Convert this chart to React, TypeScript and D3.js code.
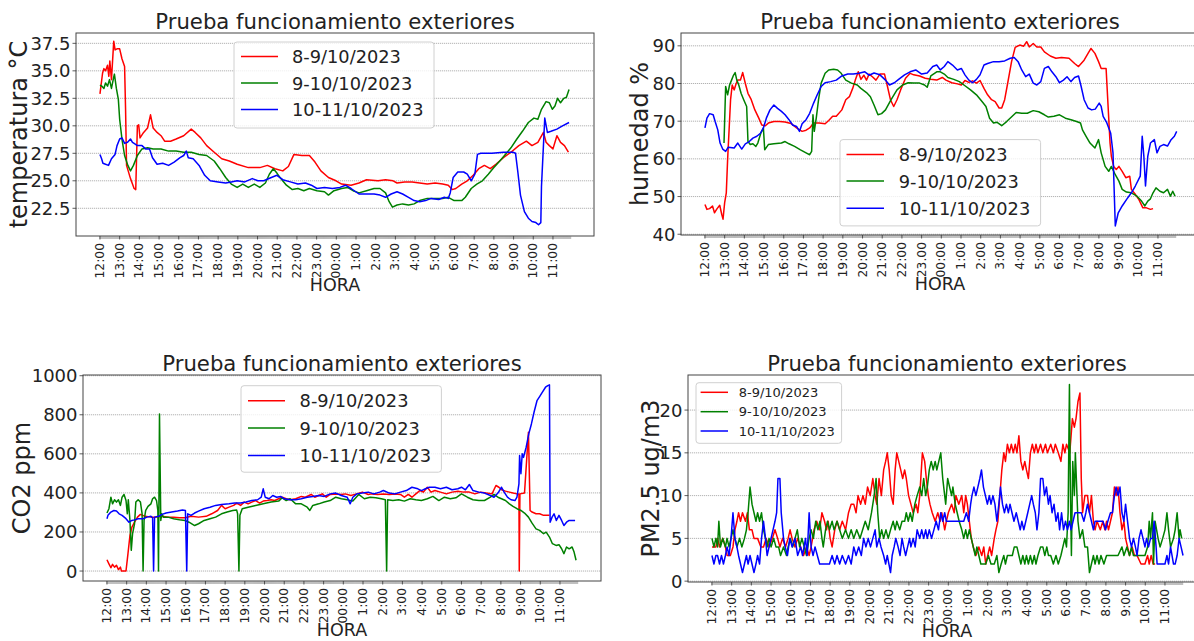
import React from "react";
import * as d3 from "d3";

type Pt = [number, number];

// x values are minutes after 12:00
const hourLabels = ["12:00","13:00","14:00","15:00","16:00","17:00","18:00","19:00","20:00","21:00","22:00","23.00","00:00","1:00","2:00","3:00","4:00","5:00","6:00","7:00","8:00","9:00","10:00","11:00"];
const seriesNames = ["8-9/10/2023", "9-10/10/2023", "10-11/10/2023"];
const seriesColors = ["#ff0000", "#008000", "#0000ff"];
const chartTitle = "Prueba funcionamiento exteriores";
const xAxisTitle = "HORA";

const tempRed: Pt[] = [[0,32.9],[8,34.8],[12,35.2],[17,35.0],[23,35.5],[27,34.5],[30,35.9],[35,34.2],[42,37.7],[46,36.9],[52,37.0],[60,37.0],[67,36.1],[75,35.4],[78,31.5],[81,26.4],[93,25.2],[104,24.3],[109,24.2],[114,30.0],[118,30.1],[122,28.9],[133,29.4],[145,29.8],[154,31.0],[162,29.8],[174,29.4],[186,29.1],[197,28.6],[215,28.6],[232,28.8],[255,29.1],[278,29.7],[290,29.4],[307,28.9],[325,28.2],[348,27.6],[371,27.0],[394,26.8],[418,26.5],[452,26.2],[487,26.2],[510,26.4],[533,26.1],[557,25.9],[574,26.3],[591,27.4],[615,27.3],[638,27.3],[655,26.7],[673,25.9],[696,25.3],[719,25.0],[736,24.7],[765,24.6],[789,24.8],[812,25.1],[847,25.0],[870,25.1],[893,25.0],[905,24.8],[928,24.9],[951,24.9],[974,24.8],[997,24.7],[1021,24.8],[1044,24.7],[1061,24.6],[1073,24.2],[1084,24.3],[1102,24.7],[1119,25.0],[1137,25.5],[1154,26.1],[1171,26.4],[1189,26.1],[1206,26.5],[1229,27.1],[1252,27.6],[1276,28.2],[1299,28.6],[1316,28.2],[1334,28.5],[1351,29.4],[1359,28.5],[1369,28.2],[1380,27.9],[1392,29.1],[1403,28.5],[1415,28.2],[1427,27.6]];
const tempGreen: Pt[] = [[0,33.7],[6,33.6],[12,33.4],[17,33.9],[23,33.6],[29,34.2],[35,33.4],[41,34.3],[44,34.7],[50,33.4],[56,32.4],[60,30.6],[67,28.8],[75,27.3],[85,26.4],[93,25.9],[102,26.4],[114,27.3],[128,27.9],[145,28.0],[162,27.9],[186,27.9],[209,27.7],[232,27.7],[255,27.6],[278,27.6],[302,27.4],[325,27.3],[348,26.8],[365,26.1],[383,25.3],[400,24.7],[418,24.4],[435,24.7],[452,24.4],[470,24.7],[487,24.4],[504,24.8],[516,25.6],[528,26.1],[539,25.7],[551,25.2],[568,24.6],[586,24.2],[603,24.3],[621,24.1],[638,24.3],[661,24.1],[684,24.0],[696,23.7],[713,24.1],[736,24.3],[754,24.4],[771,24.1],[789,23.9],[812,24.1],[835,24.3],[853,24.3],[870,23.9],[881,23.1],[891,22.6],[905,22.8],[922,22.9],[940,22.8],[957,22.9],[974,23.2],[997,23.4],[1021,23.4],[1044,23.4],[1061,23.5],[1079,23.2],[1102,23.2],[1113,23.5],[1131,24.3],[1148,24.7],[1165,25.0],[1183,25.6],[1200,26.2],[1218,26.8],[1235,27.4],[1252,28.0],[1270,28.8],[1287,29.5],[1305,30.3],[1322,30.7],[1334,30.6],[1345,31.5],[1359,32.2],[1369,32.1],[1378,31.5],[1386,31.8],[1394,32.5],[1403,32.1],[1413,32.5],[1421,32.6],[1429,33.3]];
const tempBlue: Pt[] = [[0,27.4],[5,27.0],[9,26.6],[17,26.5],[26,26.4],[35,27.0],[46,27.4],[52,28.2],[60,28.8],[67,28.9],[75,28.4],[84,28.5],[93,28.8],[99,28.5],[104,28.4],[114,28.2],[128,28.2],[139,27.9],[151,27.9],[160,27.1],[174,26.5],[191,26.6],[209,26.4],[226,26.7],[244,27.1],[255,27.3],[263,27.7],[269,27.1],[284,27.0],[302,26.4],[319,25.5],[336,25.0],[360,24.9],[383,24.8],[400,24.9],[418,25.0],[441,24.9],[464,25.2],[481,25.0],[499,25.0],[522,25.3],[539,25.5],[557,25.1],[580,24.9],[603,24.7],[626,24.8],[644,24.6],[661,24.3],[684,24.4],[708,24.3],[731,24.4],[748,24.6],[765,24.3],[789,23.8],[812,23.8],[835,23.8],[853,23.7],[870,23.5],[887,23.8],[905,24.0],[922,23.8],[940,23.5],[957,23.2],[974,23.1],[992,23.2],[1009,23.4],[1032,23.3],[1049,23.5],[1061,23.4],[1067,23.9],[1076,25.3],[1090,25.8],[1108,25.8],[1119,25.6],[1131,25.0],[1142,25.6],[1150,27.4],[1160,27.5],[1194,27.5],[1229,27.6],[1258,27.6],[1266,27.5],[1273,25.8],[1281,23.7],[1293,22.2],[1305,21.6],[1316,21.3],[1328,21.2],[1336,21.0],[1343,21.2],[1345,24.5],[1355,30.7],[1363,29.4],[1374,29.5],[1392,29.7],[1409,30.0],[1429,30.3]];

const humRed: Pt[] = [[0,47.9],[6,46.6],[14,46.8],[23,47.5],[29,45.7],[37,46.8],[45,47.7],[51,45.3],[55,44.0],[60,48.4],[65,51.0],[69,59.8],[74,68.6],[78,75.7],[83,79.6],[89,78.3],[95,80.0],[100,80.9],[108,80.9],[115,82.9],[123,80.0],[131,77.4],[141,75.7],[152,73.0],[164,70.8],[173,69.0],[184,68.8],[193,69.5],[210,69.9],[227,69.9],[244,69.8],[262,69.4],[279,68.2],[296,67.3],[308,67.6],[319,68.2],[331,69.5],[348,69.5],[366,69.3],[377,70.2],[389,71.3],[400,71.3],[417,73.0],[429,75.7],[440,76.5],[450,78.7],[458,80.9],[467,83.1],[475,81.1],[484,82.2],[492,80.9],[500,82.5],[510,81.8],[521,80.9],[533,82.5],[547,82.5],[556,79.2],[565,75.7],[575,73.9],[585,75.7],[596,78.3],[611,81.4],[625,82.7],[636,82.3],[654,82.0],[671,81.4],[688,81.1],[706,80.9],[723,81.6],[734,80.9],[752,80.2],[769,79.9],[781,79.6],[792,80.8],[804,80.3],[815,80.7],[827,80.1],[838,80.8],[850,78.7],[861,77.0],[873,75.7],[884,75.2],[896,73.5],[904,73.5],[913,75.7],[922,80.0],[934,85.8],[945,89.6],[959,90.2],[971,89.9],[980,91.1],[988,89.7],[1000,90.6],[1011,89.7],[1023,89.7],[1034,88.4],[1052,87.3],[1069,86.7],[1086,86.9],[1109,86.7],[1126,85.3],[1138,84.5],[1155,86.2],[1167,88.0],[1176,89.3],[1188,88.0],[1199,85.8],[1207,84.0],[1222,84.0],[1227,75.7],[1234,64.2],[1238,60.7],[1245,58.0],[1253,57.2],[1261,58.0],[1271,56.7],[1282,55.0],[1294,55.4],[1299,51.9],[1311,50.6],[1322,49.2],[1334,47.0],[1345,47.0],[1357,46.6],[1365,46.8]];
const humGreen: Pt[] = [[58,64.2],[63,79.2],[69,77.0],[75,79.6],[81,80.9],[86,82.0],[92,82.9],[97,80.9],[103,79.6],[110,77.4],[118,75.7],[127,73.9],[131,64.6],[138,63.8],[146,64.0],[155,63.3],[161,64.2],[170,66.8],[178,68.2],[182,62.4],[193,63.8],[210,64.0],[233,64.2],[244,64.6],[256,64.0],[273,63.3],[291,62.4],[308,61.6],[319,61.1],[325,62.0],[329,71.7],[333,67.3],[339,70.8],[346,75.7],[354,80.1],[366,82.7],[377,83.6],[392,83.8],[404,83.6],[415,82.7],[429,80.9],[446,80.1],[464,79.6],[475,78.7],[492,77.6],[504,76.5],[515,74.3],[527,71.7],[538,72.0],[550,73.0],[567,75.7],[585,78.3],[602,79.6],[619,80.2],[636,80.1],[654,80.1],[669,79.6],[677,79.0],[688,82.0],[706,83.1],[717,83.1],[729,82.5],[740,81.6],[758,81.1],[775,80.5],[792,79.4],[809,78.3],[827,77.0],[844,75.2],[856,73.9],[867,70.8],[879,69.5],[890,69.7],[904,68.8],[919,69.9],[936,71.3],[948,72.3],[965,72.1],[982,72.1],[1000,72.8],[1017,72.5],[1034,71.7],[1046,71.1],[1063,71.3],[1080,71.7],[1098,70.8],[1115,70.4],[1132,69.9],[1144,69.5],[1150,67.7],[1161,66.0],[1173,64.2],[1188,62.9],[1199,65.1],[1207,61.6],[1219,58.0],[1230,56.7],[1238,58.0],[1250,55.8],[1261,54.1],[1271,51.9],[1284,51.2],[1299,51.0],[1316,50.1],[1330,48.8],[1340,47.5],[1349,48.8],[1357,49.4],[1365,51.0],[1374,52.3],[1386,51.4],[1397,51.0],[1409,51.9],[1418,50.1],[1425,51.4],[1432,50.1]];
const humBlue: Pt[] = [[0,68.2],[6,70.8],[14,72.0],[25,71.7],[31,69.9],[39,67.7],[46,64.2],[54,62.6],[63,62.0],[71,63.1],[89,62.9],[100,64.2],[112,62.6],[123,64.0],[135,64.6],[146,65.5],[158,66.0],[169,66.8],[178,68.2],[187,70.8],[198,73.0],[210,74.3],[221,73.4],[233,72.6],[244,71.7],[256,70.4],[267,69.0],[279,68.6],[288,67.3],[296,69.3],[308,70.4],[319,72.1],[331,74.8],[342,77.0],[354,79.2],[366,80.2],[383,80.5],[400,80.9],[417,82.0],[435,82.5],[452,82.5],[469,82.7],[487,83.1],[500,82.2],[515,82.8],[533,82.3],[550,80.9],[562,79.6],[577,80.2],[590,81.1],[608,82.3],[625,83.1],[642,83.6],[660,82.5],[677,82.8],[694,84.5],[706,84.9],[717,83.6],[729,84.5],[740,85.8],[754,84.9],[769,83.6],[781,84.0],[792,82.3],[804,80.9],[815,80.2],[827,81.1],[838,82.3],[850,84.9],[861,85.3],[879,85.8],[896,85.8],[913,86.0],[930,86.7],[942,86.9],[954,85.8],[965,83.6],[977,81.8],[988,82.5],[1000,80.1],[1011,79.6],[1023,80.5],[1034,84.0],[1046,84.5],[1057,83.1],[1069,81.8],[1080,80.2],[1092,80.9],[1103,81.8],[1115,80.5],[1126,81.6],[1138,82.0],[1146,79.2],[1155,75.7],[1167,73.5],[1178,73.0],[1189,73.2],[1201,74.8],[1207,73.9],[1213,71.3],[1224,69.6],[1236,66.8],[1243,61.6],[1250,42.2],[1259,45.7],[1271,47.5],[1284,49.2],[1299,51.0],[1311,52.8],[1326,55.4],[1332,66.0],[1337,60.7],[1342,52.8],[1349,60.7],[1357,64.2],[1369,65.1],[1377,61.6],[1386,63.3],[1397,63.8],[1409,63.4],[1420,65.1],[1430,66.0],[1437,67.3]];

const co2Red: Pt[] = [[0,58],[6,37],[12,17],[17,34],[23,20],[29,29],[35,7],[41,20],[44,0],[52,0],[58,0],[64,89],[70,182],[76,225],[84,250],[93,276],[102,290],[116,280],[134,276],[151,276],[168,280],[186,276],[203,276],[221,273],[238,273],[256,280],[279,276],[302,280],[319,293],[337,310],[349,336],[360,319],[372,327],[386,336],[395,348],[407,336],[418,353],[430,344],[441,353],[453,361],[465,348],[476,358],[488,361],[500,365],[511,361],[523,370],[534,378],[546,370],[558,365],[575,370],[592,382],[604,378],[622,392],[633,378],[645,387],[656,395],[668,378],[680,392],[697,395],[714,392],[726,395],[743,387],[761,395],[778,404],[796,392],[807,395],[825,392],[842,395],[860,392],[877,395],[894,392],[906,378],[918,392],[929,378],[941,395],[953,412],[964,404],[976,429],[987,404],[999,412],[1016,404],[1034,395],[1051,404],[1069,409],[1086,404],[1104,404],[1121,395],[1138,404],[1156,399],[1173,395],[1185,438],[1194,429],[1202,416],[1214,409],[1226,404],[1237,399],[1249,395],[1255,395],[1256,0],[1258,395],[1272,400],[1284,711],[1289,310],[1295,302],[1307,293],[1318,293],[1330,285],[1342,285],[1348,285]];
const co2Green: Pt[] = [[0,297],[6,319],[12,378],[17,344],[23,365],[29,353],[35,365],[41,336],[46,378],[52,392],[58,361],[62,293],[65,365],[70,259],[74,106],[78,191],[84,242],[88,353],[95,365],[102,353],[107,293],[110,0],[113,259],[118,310],[125,331],[134,344],[139,370],[145,378],[151,361],[155,310],[157,0],[160,804],[164,259],[167,293],[172,276],[186,276],[203,268],[221,262],[238,259],[250,250],[267,233],[279,242],[296,259],[314,268],[331,276],[349,293],[366,302],[383,310],[395,313],[398,293],[402,0],[405,285],[412,319],[430,327],[453,336],[476,344],[500,353],[523,358],[534,375],[546,361],[558,370],[575,344],[592,344],[610,327],[618,310],[627,336],[645,344],[662,353],[680,361],[697,378],[714,370],[732,365],[749,358],[767,392],[784,370],[802,378],[819,375],[836,370],[848,365],[852,0],[855,365],[871,361],[889,365],[906,358],[924,370],[941,365],[958,361],[976,370],[993,382],[1011,361],[1028,378],[1046,370],[1063,375],[1080,395],[1098,378],[1115,365],[1133,361],[1150,361],[1168,378],[1179,392],[1191,378],[1202,370],[1214,361],[1226,344],[1237,331],[1249,319],[1261,310],[1272,297],[1284,276],[1295,245],[1307,216],[1318,208],[1330,191],[1338,199],[1348,174],[1357,140],[1368,131],[1377,135],[1385,114],[1392,89],[1400,123],[1408,114],[1417,123],[1423,97],[1429,55]];
const co2Blue: Pt[] = [[0,268],[3,285],[12,302],[21,310],[29,307],[37,293],[46,285],[58,268],[67,250],[76,259],[84,262],[95,268],[110,268],[122,276],[134,280],[139,273],[142,0],[145,276],[157,280],[168,290],[180,297],[197,302],[215,307],[230,313],[239,310],[243,0],[246,293],[256,285],[267,297],[279,307],[296,319],[314,327],[331,336],[349,341],[372,344],[389,348],[407,348],[424,353],[441,361],[459,365],[470,378],[476,421],[482,378],[494,370],[505,387],[517,378],[529,382],[540,370],[558,365],[575,365],[592,370],[610,378],[627,382],[645,387],[662,382],[680,395],[697,399],[714,387],[732,378],[741,344],[749,378],[761,395],[778,399],[796,404],[813,395],[831,404],[842,412],[860,399],[877,395],[894,404],[912,412],[929,429],[947,421],[958,412],[970,421],[982,429],[999,429],[1016,421],[1034,429],[1051,416],[1069,421],[1080,429],[1092,416],[1104,443],[1115,412],[1133,404],[1150,399],[1168,387],[1179,378],[1191,399],[1202,429],[1210,404],[1220,378],[1231,365],[1243,361],[1249,378],[1255,446],[1257,591],[1261,498],[1265,600],[1269,582],[1277,634],[1285,702],[1293,753],[1301,813],[1310,872],[1318,893],[1326,915],[1336,941],[1343,949],[1348,953],[1350,250],[1356,276],[1362,293],[1369,259],[1377,285],[1385,259],[1392,233],[1400,250],[1408,259],[1417,259],[1426,259]];

const pmRed: Pt[] = [[0,4],[12,4],[17,5],[23,4],[33,5],[41,4],[46,3],[56,3],[64,4],[70,6],[76,7],[81,8],[87,7],[93,8],[102,7],[108,8],[114,6],[122,6],[128,5],[139,5],[149,4],[157,4],[165,5],[174,4],[184,5],[192,6],[200,5],[207,4],[215,5],[224,4],[232,5],[238,6],[244,5],[253,4],[261,5],[270,4],[279,3],[288,4],[296,3],[302,4],[311,6],[319,7],[328,6],[335,8],[343,7],[349,6],[354,7],[360,5],[366,4],[374,6],[381,7],[389,6],[397,7],[407,6],[416,8],[424,9],[432,9],[439,8],[445,10],[453,9],[460,10],[467,9],[474,11],[482,10],[490,12],[497,10],[502,9],[509,12],[516,10],[523,13],[529,14],[534,15],[540,13],[546,10],[552,9],[558,13],[563,15],[569,14],[575,13],[581,12],[587,13],[592,12],[599,10],[606,9],[613,8],[622,9],[627,8],[633,10],[641,15],[648,14],[653,12],[659,10],[664,9],[671,8],[680,7],[688,8],[695,7],[700,8],[709,6],[714,7],[720,8],[730,9],[738,8],[743,10],[752,9],[761,10],[767,8],[773,10],[778,9],[784,7],[790,5],[796,4],[804,3],[813,4],[822,3],[828,4],[834,2],[840,3],[846,4],[852,3],[860,5],[865,6],[871,7],[877,10],[883,13],[889,15],[894,14],[900,16],[906,15],[912,16],[918,15],[924,16],[929,15],[935,17],[941,14],[947,13],[953,14],[958,13],[964,12],[970,15],[976,16],[982,15],[987,16],[993,15],[1001,16],[1008,15],[1016,16],[1022,15],[1032,16],[1040,15],[1046,16],[1055,15],[1063,14],[1069,16],[1075,15],[1080,16],[1090,15],[1098,19],[1104,18],[1109,19],[1115,21],[1121,22],[1125,12],[1129,8],[1136,10],[1144,10],[1150,8],[1156,10],[1162,7],[1167,6],[1173,7],[1183,6],[1191,7],[1197,6],[1202,7],[1208,6],[1214,7],[1220,8],[1226,11],[1231,10],[1237,11],[1243,8],[1249,6],[1255,7],[1260,5],[1266,4],[1272,3],[1280,4],[1287,3],[1295,3],[1307,2],[1319,2],[1327,3],[1332,2],[1338,3],[1344,2],[1350,2]];
const pmGreen: Pt[] = [[0,5],[6,4],[12,5],[17,4],[21,7],[26,4],[33,5],[41,4],[46,5],[52,4],[58,5],[64,6],[70,5],[76,4],[84,5],[91,4],[99,5],[105,6],[110,8],[116,11],[122,9],[128,8],[134,7],[139,8],[145,7],[151,8],[157,6],[163,5],[168,4],[174,5],[180,4],[188,5],[195,4],[203,4],[209,3],[218,4],[227,3],[232,4],[239,5],[246,4],[253,5],[260,6],[267,4],[274,5],[281,4],[288,3],[296,5],[302,6],[309,5],[316,7],[323,6],[329,7],[335,5],[339,4],[346,6],[352,7],[358,6],[366,7],[372,6],[381,7],[389,6],[397,5],[407,6],[416,5],[424,6],[432,5],[441,6],[451,5],[459,6],[467,7],[476,6],[486,8],[494,10],[500,12],[505,8],[511,5],[517,6],[523,5],[530,6],[537,5],[544,6],[552,7],[558,6],[563,7],[572,6],[579,7],[587,7],[592,8],[598,7],[604,8],[610,7],[618,9],[625,10],[633,11],[639,10],[645,12],[651,10],[656,11],[662,13],[668,14],[674,13],[680,14],[685,13],[691,14],[697,15],[703,12],[709,10],[712,9],[718,12],[724,11],[730,10],[734,11],[741,9],[747,8],[753,7],[761,6],[767,5],[773,6],[778,5],[784,6],[790,5],[796,4],[802,3],[807,4],[813,3],[819,2],[825,2],[834,2],[842,3],[850,2],[860,2],[868,3],[874,1],[881,2],[889,3],[894,2],[900,3],[908,3],[915,3],[921,4],[929,4],[935,3],[941,2],[947,3],[953,2],[958,3],[964,2],[970,3],[976,2],[982,3],[987,2],[993,3],[1001,4],[1008,4],[1014,3],[1020,4],[1025,3],[1032,3],[1040,2],[1048,3],[1055,2],[1063,3],[1069,4],[1075,5],[1080,4],[1085,8],[1089,23],[1092,10],[1095,3],[1099,14],[1104,10],[1107,15],[1112,10],[1115,7],[1121,5],[1129,6],[1136,4],[1144,4],[1150,1],[1156,2],[1162,3],[1167,2],[1173,3],[1179,2],[1185,3],[1194,2],[1202,3],[1214,3],[1226,3],[1237,3],[1249,4],[1255,3],[1264,4],[1272,3],[1278,4],[1284,3],[1295,3],[1307,3],[1319,3],[1327,4],[1332,7],[1336,5],[1342,8],[1345,2],[1350,7],[1359,5],[1365,4],[1373,5],[1380,6],[1386,8],[1391,6],[1397,4],[1406,5],[1411,6],[1417,8],[1423,5],[1426,6],[1431,5]];
const pmBlue: Pt[] = [[0,3],[6,2],[12,3],[17,3],[23,2],[29,3],[35,2],[41,3],[46,4],[52,3],[58,5],[64,8],[70,5],[76,4],[81,3],[87,2],[93,1],[99,2],[105,3],[110,2],[116,3],[122,2],[128,1],[134,2],[139,3],[145,2],[151,5],[157,7],[163,5],[168,3],[174,4],[180,5],[186,6],[192,7],[197,8],[201,12],[207,12],[211,8],[218,5],[223,4],[230,3],[237,5],[244,4],[253,5],[261,3],[270,4],[276,3],[285,5],[290,3],[296,8],[302,4],[308,3],[314,4],[321,3],[328,2],[337,2],[349,2],[358,2],[366,3],[374,2],[381,3],[389,2],[397,3],[407,2],[416,3],[424,2],[432,4],[439,3],[447,4],[455,3],[462,5],[469,4],[476,5],[483,4],[490,5],[497,6],[502,4],[509,5],[515,4],[523,3],[529,2],[534,3],[544,1],[549,3],[555,4],[560,5],[567,4],[573,3],[579,5],[584,4],[590,3],[596,4],[602,5],[606,4],[613,5],[619,4],[625,6],[633,5],[639,6],[645,5],[651,6],[656,5],[662,6],[669,5],[676,6],[683,7],[690,6],[697,8],[703,7],[709,8],[714,7],[723,7],[732,7],[743,7],[755,7],[767,7],[775,8],[782,7],[788,9],[792,10],[798,11],[804,10],[810,11],[816,12],[821,13],[827,11],[833,10],[839,9],[845,10],[850,9],[856,10],[862,9],[868,7],[874,9],[879,11],[885,9],[891,8],[897,9],[903,8],[908,9],[914,8],[920,7],[927,8],[933,7],[939,6],[944,7],[950,6],[956,7],[962,8],[968,9],[974,10],[979,9],[985,8],[990,6],[996,8],[1001,12],[1008,12],[1013,10],[1019,11],[1025,9],[1030,10],[1036,8],[1042,9],[1048,7],[1054,8],[1059,6],[1065,8],[1071,6],[1077,7],[1083,6],[1089,7],[1094,6],[1100,7],[1106,8],[1115,8],[1125,8],[1133,7],[1139,8],[1144,9],[1150,8],[1156,7],[1162,6],[1167,7],[1173,7],[1183,7],[1191,7],[1199,6],[1206,7],[1214,8],[1220,8],[1226,10],[1231,11],[1237,10],[1243,11],[1249,8],[1255,7],[1260,9],[1266,7],[1272,5],[1278,4],[1284,5],[1290,4],[1295,3],[1301,5],[1307,6],[1313,5],[1319,4],[1324,5],[1330,4],[1336,5],[1342,5],[1347,7],[1353,4],[1356,2],[1365,2],[1373,2],[1380,2],[1386,3],[1391,2],[1397,4],[1406,2],[1411,2],[1417,3],[1423,5],[1429,4],[1435,3]];

const tempTicks = [22.5, 25, 27.5, 30, 32.5, 35, 37.5];
const humTicks = [40, 50, 60, 70, 80, 90];
const co2Ticks = [0, 200, 400, 600, 800, 1000];
const pmTicks = [0, 5, 10, 15, 20];

const PLOT_W = 518;
const X_DOMAIN: [number, number] = [-73, 1505];

const panels = [
  { key: "temp", left: 76, top: 33, bottom: 236, yDomain: [19.98, 38.44], yTicks: tempTicks, yFmt: ".1f", yLabel: "temperatura °C", yLabelX: 19, data: [tempRed, tempGreen, tempBlue],
    legend: { x: 234, y: 42, w: 200, h: 86, font: 17.8, rows: [56.5, 83, 109.4], h0: 241, h1: 278, tx: 292 } },
  { key: "hum", left: 681, top: 33, bottom: 235, yDomain: [39.8, 93.4], yTicks: humTicks, yFmt: "d", yLabel: "humedad %", yLabelX: 640, data: [humRed, humGreen, humBlue],
    legend: { x: 840, y: 139.6, w: 200.6, h: 86.3, font: 17.8, rows: [154.6, 181.1, 208.3], h0: 846.5, h1: 884, tx: 898.7 } },
  { key: "co2", left: 83, top: 375, bottom: 581, yDomain: [-51, 1003.6], yTicks: co2Ticks, yFmt: "d", yLabel: "CO2 ppm", yLabelX: 22, data: [co2Red, co2Green, co2Blue],
    legend: { x: 241, y: 385.7, w: 200.4, h: 86.5, font: 17.8, rows: [400.7, 428, 455.5], h0: 248, h1: 285, tx: 299.6 } },
  { key: "pm", left: 688, top: 375, bottom: 582, yDomain: [-0.1, 24.1], yTicks: pmTicks, yFmt: "d", yLabel: "PM2.5 ug/m3", yLabelX: 651, data: [pmRed, pmGreen, pmBlue],
    legend: { x: 696, y: 382.7, w: 145.6, h: 60.6, font: 13, rows: [392.3, 411.7, 431], h0: 700.6, h1: 728, tx: 738.7 } },
];

function Panel({ p }: { p: any }) {
  const x = d3.scaleLinear().domain(X_DOMAIN).range([p.left, p.left + PLOT_W]);
  const y = d3.scaleLinear().domain(p.yDomain).range([p.bottom, p.top]);
  const line = d3.line<Pt>().x((d) => x(d[0])).y((d) => y(d[1]));
  const fmt = d3.format(p.yFmt);
  const minor = d3.range(0, 1436, 3);
  const clipId = `clip-${p.key}`;
  const cx = p.left + PLOT_W / 2;
  const h = p.bottom - p.top;
  const lg = p.legend;
  return (
    <g>
      <defs>
        <clipPath id={clipId}>
          <rect x={p.left} y={p.top} width={PLOT_W} height={h} />
        </clipPath>
      </defs>
      {p.yTicks.map((t: number) => (
        <line key={"g" + t} x1={p.left} x2={p.left + PLOT_W} y1={y(t)} y2={y(t)} stroke="#a0a0a0" strokeWidth={0.8} strokeDasharray="1.2,0.8" />
      ))}
      <g clipPath={`url(#${clipId})`}>
        {p.data.map((s: Pt[], i: number) => (
          <path key={i} d={line(s) || ""} fill="none" stroke={seriesColors[i]} strokeWidth={1.5} strokeLinejoin="round" />
        ))}
      </g>
      <rect x={p.left} y={p.top} width={PLOT_W} height={h} fill="none" stroke="#444" strokeWidth={1} />
      {minor.map((m) => (
        <line key={"m" + m} x1={x(m)} x2={x(m)} y1={p.bottom} y2={p.bottom + 3} stroke="#777" strokeWidth={0.5} />
      ))}
      {hourLabels.map((lab, i) => (
        <g key={"x" + i}>
          <line x1={x(i * 60)} x2={x(i * 60)} y1={p.bottom} y2={p.bottom + 3.5} stroke="#333" strokeWidth={0.8} />
          <text transform={`translate(${x(i * 60)},${p.bottom + 7}) rotate(-90)`} textAnchor="end" dominantBaseline="central" fontSize={12.3} fill="#222">
            {lab}
          </text>
        </g>
      ))}
      {p.yTicks.map((t: number) => (
        <g key={"y" + t}>
          <line x1={p.left - 3.5} x2={p.left} y1={y(t)} y2={y(t)} stroke="#333" strokeWidth={0.8} />
          <text x={p.left - 5.5} y={y(t)} textAnchor="end" dominantBaseline="central" fontSize={18} fill="#222">
            {fmt(t)}
          </text>
        </g>
      ))}
      <text x={cx} y={p.top - 4} textAnchor="middle" fontSize={21.2} fill="#222">
        {chartTitle}
      </text>
      <text x={cx} y={p.bottom + 55} textAnchor="middle" fontSize={17.5} fill="#222">
        {xAxisTitle}
      </text>
      <text transform={`translate(${p.yLabelX},${(p.top + p.bottom) / 2}) rotate(-90)`} textAnchor="middle" dominantBaseline="central" fontSize={24} fill="#222">
        {p.yLabel}
      </text>
      <rect x={lg.x} y={lg.y} width={lg.w} height={lg.h} rx={3} ry={3} fill="#fff" fillOpacity={0.8} stroke="#d0d0d0" strokeWidth={1} />
      {seriesNames.map((n, i) => (
        <g key={"l" + i}>
          <line x1={lg.h0} x2={lg.h1} y1={lg.rows[i]} y2={lg.rows[i]} stroke={seriesColors[i]} strokeWidth={1.5} />
          <text x={lg.tx} y={lg.rows[i]} dominantBaseline="central" fontSize={lg.font} fill="#222">
            {n}
          </text>
        </g>
      ))}
    </g>
  );
}

export default function App() {
  return (
    <svg width={1194} height={641} viewBox="0 0 1194 641" style={{ position: "absolute", left: 0, top: 0, background: "#fff" }} fontFamily="'DejaVu Sans', sans-serif">
      <rect x={0} y={0} width={1194} height={641} fill="#fff" />
      {panels.map((p) => (
        <Panel key={p.key} p={p} />
      ))}
    </svg>
  );
}
